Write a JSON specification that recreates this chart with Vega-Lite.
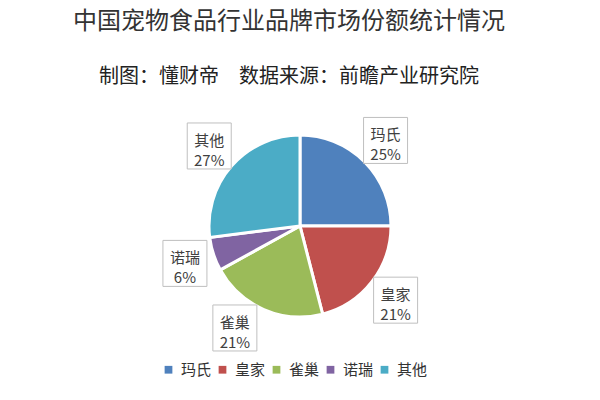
{
  "$schema": "https://vega.github.io/schema/vega-lite/v6.json",
  "width": 600,
  "height": 250,
  "padding": {"top": 10, "left": 0, "right": 0, "bottom": 0},
  "background": "white",
  "config": {"view": {"stroke": null}, "font": "Noto Sans CJK SC"},
  "title": {
    "text": "中国宠物食品行业品牌市场份额统计情况",
    "subtitle": "制图：懂财帝　数据来源：前瞻产业研究院",
    "anchor": "middle",
    "frame": "group",
    "dx": -11,
    "font": "Noto Sans CJK SC",
    "fontSize": 24,
    "fontWeight": "normal",
    "color": "#333333",
    "subtitleFont": "Noto Sans CJK SC",
    "subtitleFontSize": 20,
    "subtitleFontWeight": "normal",
    "subtitleColor": "#222222",
    "subtitlePadding": 33,
    "offset": 14
  },
  "data": {
    "values": [
      {"brand": "玛氏", "share": 25, "order": 1},
      {"brand": "皇家", "share": 21, "order": 2},
      {"brand": "雀巢", "share": 21, "order": 3},
      {"brand": "诺瑞", "share": 6, "order": 4},
      {"brand": "其他", "share": 27, "order": 5}
    ]
  },
  "transform": [
    {"window": [{"op": "sum", "field": "share", "as": "cum"}], "sort": [{"field": "order"}], "frame": [null, 0]},
    {"calculate": "(datum.cum - datum.share / 2) / 100 * 2 * PI + (datum.brand == '雀巢' ? 0.16 : 0)", "as": "mid"},
    {"calculate": "121 * sin(datum.mid)", "as": "lx"},
    {"calculate": "-121 * cos(datum.mid)", "as": "ly"},
    {"calculate": "datum.lx - 22", "as": "bx1"},
    {"calculate": "datum.lx + 22", "as": "bx2"},
    {"calculate": "datum.ly - 23", "as": "by1"},
    {"calculate": "datum.ly + 23", "as": "by2"},
    {"calculate": "datum.brand + '\\n' + datum.share + '%'", "as": "label"}
  ],
  "layer": [
    {
      "mark": {"type": "arc", "outerRadius": 91, "stroke": "white", "strokeWidth": 3},
      "encoding": {
        "theta": {"field": "share", "type": "quantitative", "stack": true},
        "order": {"field": "order", "type": "quantitative"},
        "color": {
          "field": "brand",
          "type": "nominal",
          "scale": {
            "domain": ["玛氏", "皇家", "雀巢", "诺瑞", "其他"],
            "range": ["#4F81BD", "#C0504D", "#9BBB59", "#8064A2", "#4BACC6"]
          },
          "legend": {
            "orient": "none",
            "legendX": 161,
            "legendY": 261,
            "direction": "horizontal",
            "columns": 5,
            "title": null,
            "symbolType": "square",
            "symbolSize": 60,
            "symbolStrokeWidth": 0,
            "labelFont": "Noto Sans CJK SC",
            "labelFontSize": 15,
            "labelColor": "#333333",
            "labelOffset": 5,
            "columnPadding": 3
          }
        }
      }
    },
    {
      "mark": {"type": "rect", "fill": "white", "stroke": "#bfbfbf", "strokeWidth": 1},
      "encoding": {
        "x": {"field": "bx1", "type": "quantitative", "scale": {"domain": [-300, 300], "nice": false, "zero": false}, "axis": null},
        "x2": {"field": "bx2"},
        "y": {"field": "by1", "type": "quantitative", "scale": {"domain": [-125, 125], "nice": false, "zero": false, "reverse": true}, "axis": null},
        "y2": {"field": "by2"}
      }
    },
    {
      "mark": {"type": "text", "lineBreak": "\n", "fontSize": 15, "lineHeight": 20, "dy": -5, "color": "#404040", "baseline": "middle", "align": "center"},
      "encoding": {
        "x": {"field": "lx", "type": "quantitative", "scale": {"domain": [-300, 300], "nice": false, "zero": false}, "axis": null},
        "y": {"field": "ly", "type": "quantitative", "scale": {"domain": [-125, 125], "nice": false, "zero": false, "reverse": true}, "axis": null},
        "text": {"field": "label", "type": "nominal"}
      }
    }
  ]
}
